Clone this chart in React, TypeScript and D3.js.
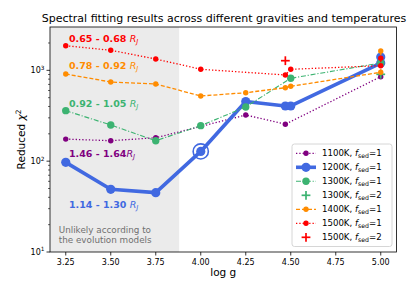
import * as d3 from "d3";

// log g positions per temperature, reduced chi^2 values
const x1100 = [3.25, 3.5, 3.75, 4.25, 4.47, 5.0];
const y1100 = [175, 168, 181, 322, 255, 851];

const x1200 = [3.25, 3.5, 3.75, 4.0, 4.25, 4.47, 4.5, 5.0, 5.0];
const y1200 = [97, 49, 45, 128, 454, 405, 405, 1204, 1403];

const x1300 = [3.25, 3.5, 3.75, 4.0, 4.25, 4.5, 5.0];
const y1300 = [360, 250, 168, 246, 395, 818, 1204];

const x1400 = [3.25, 3.5, 3.75, 4.0, 4.25, 4.47, 4.5, 5.0, 5.0];
const y1400 = [911, 744, 707, 522, 567, 644, 667, 952, 1633];

const x1500 = [3.25, 3.5, 3.75, 4.0, 4.47, 4.5, 5.0, 5.0];
const y1500 = [1867, 1662, 1333, 1027, 889, 1027, 1125, 1357];

const x1300f2 = [5.0];
const y1300f2 = [904];
const x1500f2 = [4.47];
const y1500f2 = [1277];

// highlighted best fit
const bestX = 4.0;
const bestY = 128;

const xTicks = [3.25, 3.5, 3.75, 4.0, 4.25, 4.5, 4.75, 5.0];
const yMajor = [10, 100, 1000];
const yMinor = [20, 30, 40, 50, 60, 70, 80, 90, 200, 300, 400, 500, 600, 700, 800, 900, 2000];

const unlikelyEnd = 3.88;

const radiusLabels = [
  { text: "0.65 - 0.68 ", y: 2051, color: "#ff0000" },
  { text: "0.78 - 0.92 ", y: 1027, color: "#ff8c00" },
  { text: "0.92 - 1.05 ", y: 395, color: "#3cb371" },
  { text: "1.46 - 1.64", y: 112, color: "#800080" },
  { text: "1.14 - 1.30 ", y: 30.7, color: "#4169e1" },
];

const W = 415;
const H = 289;
const L = 50, R = 396.5, T = 27, B = 252;
const FONT = "DejaVu Sans, sans-serif";

type Series = {
  temp: string;
  fsed: number;
  xs: number[];
  ys: number[];
  color: string;
  dash: string | null;
  lw: number;
  r: number;
  plus?: boolean;
};

const series: Series[] = [
  { temp: "1100K", fsed: 1, xs: x1100, ys: y1100, color: "#800080", dash: "1.3,2", lw: 1.3, r: 2.7 },
  { temp: "1200K", fsed: 1, xs: x1200, ys: y1200, color: "#4169e1", dash: null, lw: 3.6, r: 4.6 },
  { temp: "1300K", fsed: 1, xs: x1300, ys: y1300, color: "#3cb371", dash: "5,1.8,1.2,1.8", lw: 1.1, r: 3.7 },
  { temp: "1300K", fsed: 2, xs: x1300f2, ys: y1300f2, color: "#3cb371", dash: null, lw: 0, r: 4.4, plus: true },
  { temp: "1400K", fsed: 1, xs: x1400, ys: y1400, color: "#ff8c00", dash: "4,2", lw: 1.3, r: 2.7 },
  { temp: "1500K", fsed: 1, xs: x1500, ys: y1500, color: "#ff0000", dash: "1.3,2", lw: 1.3, r: 2.7 },
  { temp: "1500K", fsed: 2, xs: x1500f2, ys: y1500f2, color: "#ff0000", dash: null, lw: 0, r: 4.4, plus: true },
];

function Plus({ cx, cy, s, color }: { cx: number; cy: number; s: number; color: string }) {
  return (
    <g stroke={color} strokeWidth={1.7}>
      <line x1={cx - s} x2={cx + s} y1={cy} y2={cy} />
      <line x1={cx} x2={cx} y1={cy - s} y2={cy + s} />
    </g>
  );
}

export default function App() {
  const x = d3.scaleLinear().domain([3.1625, 5.0875]).range([L, R]);
  const y = d3.scaleLog().domain([10, 3000]).range([B, T]);

  return (
    <svg
      width={W}
      height={H}
      style={{ position: "absolute", left: 0, top: 0, background: "#fff" }}
      fontFamily={FONT}
    >
      {/* shaded region */}
      <rect x={L} y={T} width={x(unlikelyEnd) - L} height={B - T} fill="#ebebeb" />

      {/* series */}
      {series.map((s, i) => {
        if (s.plus) {
          return (
            <g key={i}>
              {s.xs.map((v, j) => (
                <Plus key={j} cx={x(v)} cy={y(s.ys[j])} s={s.r} color={s.color} />
              ))}
            </g>
          );
        }
        const pts = s.xs.map((v, j) => [x(v), y(s.ys[j])] as [number, number]);
        const line = d3.line();
        return (
          <g key={i}>
            <path
              d={line(pts) || ""}
              fill="none"
              stroke={s.color}
              strokeWidth={s.lw}
              strokeDasharray={s.dash || undefined}
              strokeLinejoin="round"
            />
            {pts.map((p, j) => (
              <circle key={j} cx={p[0]} cy={p[1]} r={s.r} fill={s.color} />
            ))}
            {s.temp === "1200K" && (
              <circle cx={x(bestX)} cy={y(bestY)} r={7.6} fill="none" stroke={s.color} strokeWidth={1.6} />
            )}
          </g>
        );
      })}

      {/* radius annotations */}
      {radiusLabels.map((a, i) => (
        <text key={i} x={x(3.268)} y={y(a.y)} fill={a.color} fontSize={9.5} fontWeight="bold">
          {a.text}
          <tspan fontWeight="normal" fontStyle="italic">R</tspan>
          <tspan fontWeight="normal" fontStyle="italic" fontSize={6.8} dy={2}>J</tspan>
        </text>
      ))}
      <text x={x(3.211)} y={y(16.1)} fill="#707070" fontSize={8.8}>Unlikely according to</text>
      <text x={x(3.211)} y={y(12.5)} fill="#707070" fontSize={8.8}>the evolution models</text>

      {/* frame */}
      <rect x={L} y={T} width={R - L} height={B - T} fill="none" stroke="#000" strokeWidth={0.8} />

      {/* x axis */}
      {xTicks.map((t) => (
        <g key={t}>
          <line x1={x(t)} x2={x(t)} y1={B} y2={B + 3.5} stroke="#000" strokeWidth={0.8} />
          <text x={x(t)} y={B + 12.5} textAnchor="middle" fontSize={8}>
            {d3.format(".2f")(t)}
          </text>
        </g>
      ))}
      <text x={(L + R) / 2} y={276} textAnchor="middle" fontSize={10.5}>log g</text>

      {/* y axis */}
      {yMinor.map((t) => (
        <line key={t} x1={L - 2} x2={L} y1={y(t)} y2={y(t)} stroke="#000" strokeWidth={0.6} />
      ))}
      {yMajor.map((t) => (
        <g key={t}>
          <line x1={L - 3.5} x2={L} y1={y(t)} y2={y(t)} stroke="#000" strokeWidth={0.8} />
          <text x={L - 5.5} y={y(t) + 3} textAnchor="end" fontSize={8}>
            10<tspan fontSize={5.8} dy={-3.6}>{Math.round(Math.log10(t))}</tspan>
          </text>
        </g>
      ))}
      <text
        transform={`translate(25,${(T + B) / 2}) rotate(-90)`}
        textAnchor="middle"
        fontSize={10.5}
      >
        Reduced <tspan fontStyle="italic">χ</tspan>
        <tspan fontSize={7.4} dy={-4.4}>2</tspan>
      </text>

      {/* title */}
      <text x={224} y={22} textAnchor="middle" fontSize={11}>
        Spectral fitting results across different gravities and temperatures
      </text>

      {/* legend */}
      <rect x={292} y={144} width={100} height={102.5} rx={2.5} fill="#fff" fillOpacity={0.8} stroke="#cccccc" strokeWidth={0.8} />
      {series.map((s, i) => {
        const cy = 153.3 + i * 14;
        return (
          <g key={i}>
            {s.plus ? (
              <Plus cx={306} cy={cy} s={s.r} color={s.color} />
            ) : (
              <>
                <line x1={296} x2={316} y1={cy} y2={cy} stroke={s.color} strokeWidth={s.lw} strokeDasharray={s.dash || undefined} />
                <circle cx={306} cy={cy} r={s.r} fill={s.color} />
              </>
            )}
            <text x={322} y={cy + 3} fontSize={8.6}>
              {s.temp}, <tspan fontStyle="italic">f</tspan>
              <tspan fontSize={6.2} dy={2}>sed</tspan>
              <tspan dy={-2}>={s.fsed}</tspan>
            </text>
          </g>
        );
      })}
    </svg>
  );
}
